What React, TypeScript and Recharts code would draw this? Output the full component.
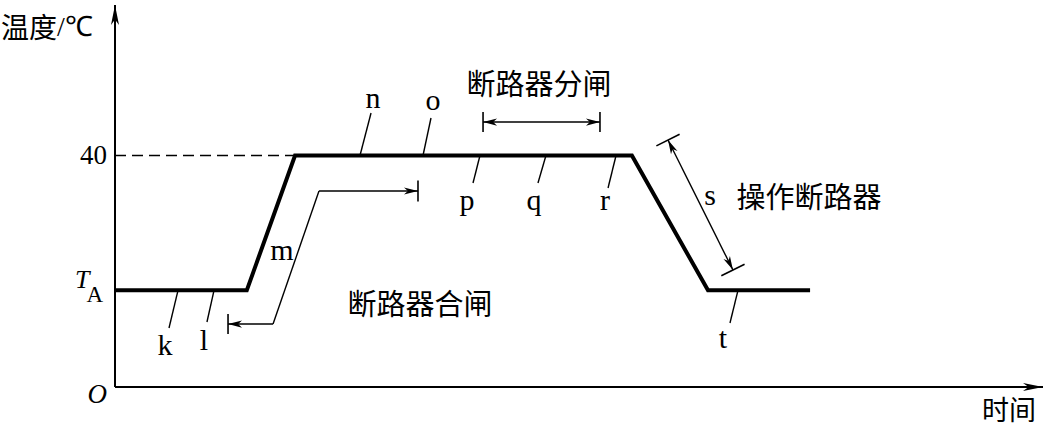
import { ComposedChart, Line, XAxis, YAxis, ReferenceLine, ReferenceDot, Label } from "recharts";

const SERIF = "'Liberation Serif', 'Times New Roman', serif";
const CJK = "'Noto Sans CJK SC', 'Noto Sans CJK JP', sans-serif";

// temperature profile of the breaker test (time in arbitrary units, temperature in °C)
const TA = 16.7;
const times = [0, 14.2, 19.4, 55.7, 63.9, 74.9];
const temps = [TA, TA, 40, 40, TA, TA];
const yTicks = [TA, 40];

const chartData = times.map((t, i) => ({ time: t, temp: temps[i] }));

// letter markers and the short leader lines pointing at the curve
const letters = ["k", "l", "m", "n", "o", "p", "q", "r", "s", "t"];
const letterAt = [
  [5.39, 5.53], [9.59, 6.39], [18.0, 21.94], [27.8, 48.2], [34.27, 47.86],
  [37.93, 30.58], [45.15, 30.58], [52.8, 30.58], [64.12, 31.44], [65.52, 6.74],
];
const leaders = [
  [6.79, TA, 5.82, 10.19],
  [10.67, TA, 9.91, 11.23],
  [27.59, 47.34, 26.4, 40],
  [34.05, 46.48, 33.19, 40],
  [39.33, 40, 38.58, 35.25],
  [46.44, 40, 45.58, 35.25],
  [53.99, 40, 53.13, 34.38],
  [67.13, TA, 66.27, 11.06],
];

const notes = ["断路器分闸", "操作断路器", "断路器合闸"];
const noteAt = [[45.69, 52.7], [74.78, 33.17], [32.87, 14.69]];

type Seg = [number, number, number, number];
// [from, to, heads at end / both, bar half-length]
const arrows: { seg: Seg; both: boolean; bar: number }[] = [
  { seg: [39.66, 45.78, 52.26, 45.78], both: true, bar: 10 },
  { seg: [21.98, 33.86, 32.65, 33.86], both: false, bar: 10.5 },
  { seg: [17.03, 10.88, 12.18, 10.88], both: false, bar: 10 },
  { seg: [59.59, 42.67, 66.59, 20.21], both: true, bar: 13 },
];
const closePath: Seg = [21.98, 33.86, 17.03, 10.88];

function head(x: number, y: number, ux: number, uy: number, len: number, half: number) {
  const bx = x - ux * len;
  const by = y - uy * len;
  const nx = -uy;
  const ny = ux;
  const pts = [
    [x, y],
    [bx + nx * half, by + ny * half],
    [x - ux * len * 0.72, y - uy * len * 0.72],
    [bx - nx * half, by - ny * half],
  ];
  return <polygon points={pts.map((p) => p.join(",")).join(" ")} fill="#000" />;
}

const arrowShape = (both: boolean, bar: number, len = 14, half = 3.6, width = 1.4) => (p: any) => {
  const { x1, y1, x2, y2 } = p;
  const d = Math.hypot(x2 - x1, y2 - y1) || 1;
  const ux = (x2 - x1) / d;
  const uy = (y2 - y1) / d;
  const nx = -uy;
  const ny = ux;
  return (
    <g>
      <line x1={x1} y1={y1} x2={x2} y2={y2} stroke="#000" strokeWidth={width} />
      {head(x2, y2, ux, uy, len, half)}
      {both && head(x1, y1, -ux, -uy, len, half)}
      {bar > 0 && (
        <line x1={x2 + nx * bar} y1={y2 + ny * bar} x2={x2 - nx * bar} y2={y2 - ny * bar} stroke="#000" strokeWidth={1.6} />
      )}
      {bar > 0 && both && (
        <line x1={x1 + nx * bar} y1={y1 + ny * bar} x2={x1 - nx * bar} y2={y1 - ny * bar} stroke="#000" strokeWidth={1.6} />
      )}
    </g>
  );
};

const YTick = (p: any) => {
  const { x, y, payload } = p;
  if (payload.value === 40) {
    return (
      <text x={x} y={y} textAnchor="end" dominantBaseline="central" fontFamily={SERIF} fontSize={27} fill="#000">
        40
      </text>
    );
  }
  return (
    <text x={x - 4} y={y} textAnchor="end" fontFamily={SERIF} fill="#000">
      <tspan fontStyle="italic" fontSize={26} dy={-2}>T</tspan>
      <tspan fontSize={23} dy={14} dx={-3}>A</tspan>
    </text>
  );
};

const XTick = (p: any) => (
  <text x={p.x - 8} y={p.y + 8} textAnchor="end" fontFamily={SERIF} fontStyle="italic" fontSize={27} fill="#000">
    O
  </text>
);

export default function App() {
  return (
    <div style={{ position: "absolute", left: 0, top: 0, background: "#fff" }}>
      <ComposedChart width={1048} height={427} data={chartData} margin={{ top: 5, right: 5, bottom: 0, left: 0 }}>
        <XAxis
          dataKey="time"
          type="number"
          domain={[0, 100]}
          ticks={[0]}
          axisLine={false}
          tickLine={false}
          height={40}
          tick={XTick}
          allowDataOverflow
        >
          <Label
            content={(props: any) => {
              const vb = props.viewBox;
              return (
                <text x={vb.x + vb.width - 7} y={vb.y + 21} textAnchor="end" dominantBaseline="central" fontFamily={CJK} fontSize={27} fill="#000">
                  时间
                </text>
              );
            }}
          />
        </XAxis>
        <YAxis
          type="number"
          domain={[0, 66]}
          ticks={yTicks}
          axisLine={false}
          tickLine={false}
          width={115}
          tick={YTick}
          allowDataOverflow
        >
          <Label
            content={(props: any) => {
              const vb = props.viewBox;
              return (
                <text x={vb.x + 1} y={vb.y + 21} dominantBaseline="central" fontFamily={CJK} fontSize={28} fill="#000">
                  温度<tspan fontFamily={SERIF}>/℃</tspan>
                </text>
              );
            }}
          />
        </YAxis>

        {/* axes with arrow tips */}
        <ReferenceLine
          segment={[{ x: 0, y: 0 }, { x: 0, y: 66 }]}
          ifOverflow="visible"
          shape={arrowShape(false, 0, 20, 4, 2)}
        />
        <ReferenceLine
          segment={[{ x: 0, y: 0 }, { x: 100, y: 0 }]}
          ifOverflow="visible"
          shape={arrowShape(false, 0, 20, 4, 2)}
        />

        <ReferenceLine
          segment={[{ x: 0, y: 40 }, { x: times[2], y: 40 }]}
          ifOverflow="visible"
          stroke="#000"
          strokeWidth={1.4}
          strokeDasharray="11 6"
        />

        {leaders.map((s, i) => (
          <ReferenceLine
            key={"ld" + i}
            segment={[{ x: s[0], y: s[1] }, { x: s[2], y: s[3] }]}
            ifOverflow="visible"
            stroke="#000"
            strokeWidth={1.4}
          />
        ))}

        <ReferenceLine
          segment={[{ x: closePath[0], y: closePath[1] }, { x: closePath[2], y: closePath[3] }]}
          ifOverflow="visible"
          stroke="#000"
          strokeWidth={1.4}
        />
        {arrows.map((a, i) => (
          <ReferenceLine
            key={"ar" + i}
            segment={[{ x: a.seg[0], y: a.seg[1] }, { x: a.seg[2], y: a.seg[3] }]}
            ifOverflow="visible"
            shape={arrowShape(a.both, a.bar)}
          />
        ))}

        <Line
          dataKey="temp"
          type="linear"
          stroke="#000"
          strokeWidth={4}
          strokeLinejoin="miter"
          dot={false}
          activeDot={false}
          isAnimationActive={false}
        />

        {letters.map((c, i) => (
          <ReferenceDot
            key={"lt" + i}
            x={letterAt[i][0]}
            y={letterAt[i][1]}
            r={0}
            ifOverflow="visible"
            shape={(p: any) => (
              <text x={p.cx} y={p.cy} textAnchor="middle" fontFamily={SERIF} fontSize={30} fill="#000">
                {c}
              </text>
            )}
          />
        ))}

        {notes.map((n, i) => (
          <ReferenceDot
            key={"nt" + i}
            x={noteAt[i][0]}
            y={noteAt[i][1]}
            r={0}
            ifOverflow="visible"
            shape={(p: any) => (
              <text x={p.cx} y={p.cy} textAnchor="middle" dominantBaseline="central" fontFamily={CJK} fontSize={29} fill="#000">
                {n}
              </text>
            )}
          />
        ))}
      </ComposedChart>
    </div>
  );
}
